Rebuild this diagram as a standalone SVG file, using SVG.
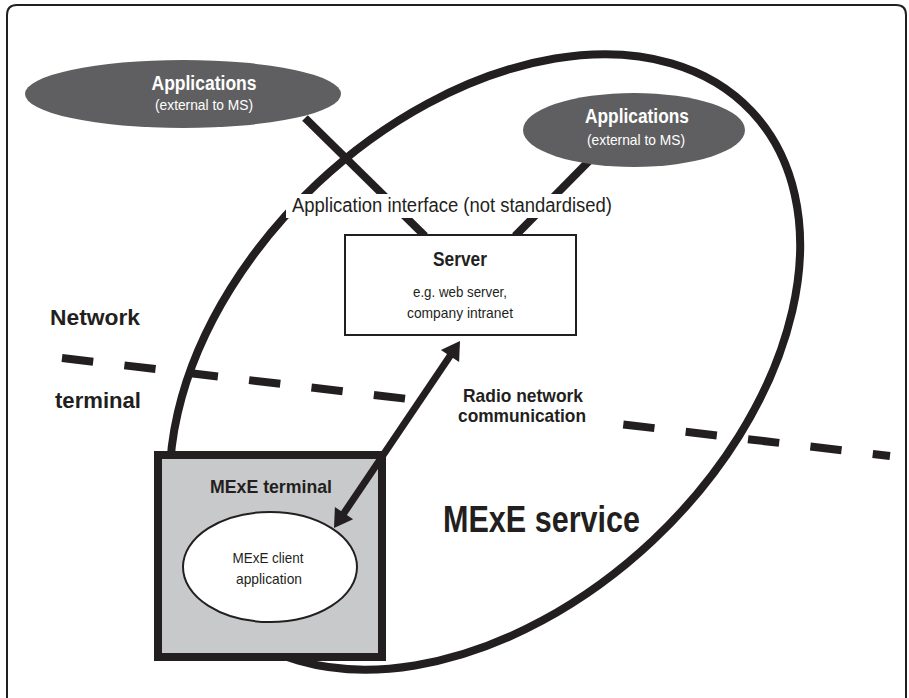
<svg xmlns="http://www.w3.org/2000/svg" width="909" height="698" viewBox="0 0 909 698">
<style>
text{font-family:"Liberation Sans Narrow","Liberation Sans",Arial,sans-serif;fill:#231f20}
.b{font-weight:bold}
.w{fill:#ffffff}
.app{fill:#5f5f61}
.thick{stroke:#231f20;stroke-width:8;fill:none}
</style>
<rect x="0" y="0" width="909" height="698" fill="#ffffff"/>
<path d="M7,700 V15 Q7,5 17,5 H896 Q906,5 906,15 V700" fill="none" stroke="#231f20" stroke-width="2"/>
<g id="mexe-service">
<ellipse cx="485" cy="362" rx="366" ry="245" transform="rotate(-43.2 485 362)" class="thick"/>
<text class="b" x="443" y="532" font-size="37" textLength="197" lengthAdjust="spacingAndGlyphs">MExE service</text>
</g>
<g id="connectors">
<line x1="305" y1="118" x2="425" y2="236" class="thick"/>
<line x1="592" y1="158" x2="515" y2="236" class="thick"/>
</g>
<g id="app-left">
<ellipse cx="183" cy="94" rx="158" ry="34" class="app"/>
<text class="b w" x="204" y="90" font-size="20" text-anchor="middle" textLength="105" lengthAdjust="spacingAndGlyphs">Applications</text>
<text class="w" x="204" y="110" font-size="14.5" text-anchor="middle" textLength="98" lengthAdjust="spacingAndGlyphs">(external to MS)</text>
</g>
<g id="app-right">
<ellipse cx="634" cy="130" rx="111" ry="37" class="app"/>
<text class="b w" x="637" y="123" font-size="20" text-anchor="middle" textLength="104" lengthAdjust="spacingAndGlyphs">Applications</text>
<text class="w" x="636" y="145" font-size="14.5" text-anchor="middle" textLength="98" lengthAdjust="spacingAndGlyphs">(external to MS)</text>
</g>
<g id="app-interface">
<rect x="286" y="194" width="332" height="24" fill="#ffffff"/>
<text x="292" y="212" font-size="20" textLength="320" lengthAdjust="spacingAndGlyphs">Application interface (not standardised)</text>
</g>
<g id="server">
<rect x="345" y="235" width="231" height="100" fill="#ffffff" stroke="#231f20" stroke-width="2"/>
<text class="b" x="460" y="266" font-size="20" text-anchor="middle" textLength="54" lengthAdjust="spacingAndGlyphs">Server</text>
<text x="460" y="297" font-size="14.5" text-anchor="middle" textLength="94" lengthAdjust="spacingAndGlyphs">e.g. web server,</text>
<text x="460" y="318" font-size="14.5" text-anchor="middle" textLength="106" lengthAdjust="spacingAndGlyphs">company intranet</text>
</g>
<g id="boundary">
<line x1="62" y1="358" x2="890" y2="456" stroke="#231f20" stroke-width="8" stroke-dasharray="31.4 31.4"/>
<rect x="410" y="388" width="210" height="42" fill="#ffffff"/>
<text class="b" x="50" y="325" font-size="22" textLength="90" lengthAdjust="spacingAndGlyphs">Network</text>
<text class="b" x="55" y="408" font-size="22" textLength="86" lengthAdjust="spacingAndGlyphs">terminal</text>
</g>
<g id="radio-label">
<text class="b" x="523" y="402" font-size="18.5" text-anchor="middle" textLength="120" lengthAdjust="spacingAndGlyphs">Radio network</text>
<text class="b" x="522" y="422" font-size="18.5" text-anchor="middle" textLength="128" lengthAdjust="spacingAndGlyphs">communication</text>
</g>
<g id="mexe-terminal">
<rect x="158" y="455" width="224" height="202" fill="#c8c9cb" stroke="#231f20" stroke-width="8"/>
<text class="b" x="271" y="493" font-size="19" text-anchor="middle" textLength="122" lengthAdjust="spacingAndGlyphs">MExE terminal</text>
</g>
<g id="mexe-client">
<ellipse cx="270" cy="567" rx="87" ry="55" fill="#ffffff" stroke="#231f20" stroke-width="2"/>
<text x="268" y="563" font-size="15" text-anchor="middle" textLength="71" lengthAdjust="spacingAndGlyphs">MExE client</text>
<text x="269" y="584" font-size="15" text-anchor="middle" textLength="66" lengthAdjust="spacingAndGlyphs">application</text>
</g>
<g id="radio-arrow">
<line x1="452" y1="353" x2="342" y2="516" stroke="#231f20" stroke-width="7"/>
<polygon points="460,341 459.1,362.1 440.9,349.9" fill="#231f20"/>
<polygon points="334,528 353.1,519.2 334.9,507" fill="#231f20"/>
</g>
</svg>
